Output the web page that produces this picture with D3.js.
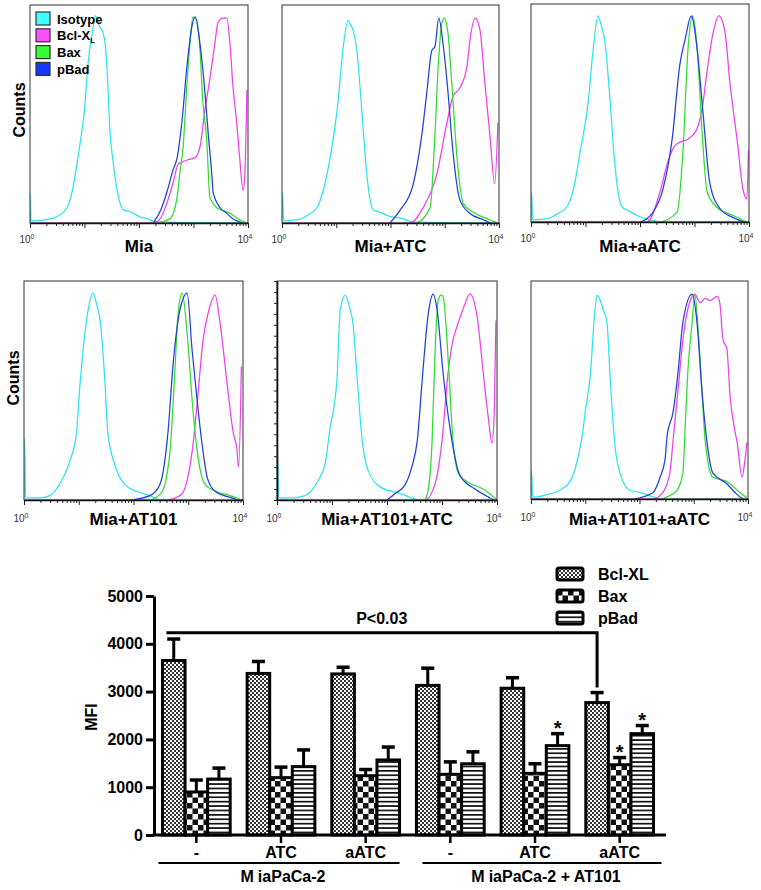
<!DOCTYPE html>
<html>
<head>
<meta charset="utf-8">
<script src="https://cdn.jsdelivr.net/npm/d3@7"></script>
<style>
  body { margin: 0; background: #fff; }
  svg { display: block; font-family: "Liberation Sans", Arial, sans-serif; }
</style>
</head>
<body>
<svg></svg>
<script>
// ---- histogram data: [log10 fluorescence, relative counts] ----
const markers = ["Isotype", "Bcl-XL", "Bax", "pBad"];
const panelLabels = ["Mia", "Mia+ATC", "Mia+aATC", "Mia+AT101", "Mia+AT101+ATC", "Mia+AT101+aATC"];

// Mia
const mia_iso = [[0,0],[0.005,0.13],[0.02,0.01],[0.1,0.01],[0.3,0.015],[0.5,0.03],[0.68,0.07],[0.77,0.14],[0.88,0.30],[0.95,0.42],[1.0,0.52],[1.06,0.72],[1.15,0.885],[1.2,0.95],[1.23,0.94],[1.28,0.90],[1.32,0.885],[1.38,0.82],[1.41,0.72],[1.47,0.41],[1.52,0.29],[1.6,0.15],[1.71,0.06],[1.8,0.055],[1.89,0.045],[2.0,0.03],[2.15,0.02],[2.33,0.005],[4,0]];
const mia_bcl = [[0,0],[2.26,0],[2.39,0.02],[2.51,0.09],[2.62,0.18],[2.72,0.27],[2.8,0.28],[2.9,0.29],[3.03,0.30],[3.12,0.35],[3.21,0.52],[3.30,0.66],[3.39,0.82],[3.45,0.92],[3.54,0.94],[3.61,0.94],[3.67,0.82],[3.72,0.64],[3.80,0.44],[3.85,0.29],[3.91,0.15],[3.94,0.21],[3.98,0.61]];
const mia_bax = [[2.33,0],[2.57,0.02],[2.70,0.12],[2.75,0.23],[2.81,0.35],[2.88,0.64],[2.94,0.84],[2.99,0.945],[3.06,0.93],[3.12,0.79],[3.17,0.56],[3.25,0.35],[3.27,0.24],[3.30,0.12],[3.43,0.07],[3.67,0.045],[3.85,0.015],[3.98,0]];
const mia_pbad = [[2.26,0],[2.4,0.06],[2.51,0.14],[2.62,0.24],[2.70,0.30],[2.79,0.47],[2.88,0.72],[2.97,0.90],[3.03,0.945],[3.12,0.82],[3.21,0.60],[3.27,0.41],[3.34,0.21],[3.36,0.14],[3.49,0.07],[3.61,0.045],[3.72,0.02],[3.85,0.005],[3.9,0]];

// Mia+ATC
const atc_iso = [[0,0],[0.01,0.14],[0.03,0.01],[0.3,0.015],[0.5,0.04],[0.645,0.07],[0.75,0.14],[0.88,0.29],[1.03,0.55],[1.12,0.79],[1.22,0.93],[1.26,0.91],[1.31,0.885],[1.38,0.79],[1.47,0.52],[1.56,0.23],[1.68,0.06],[1.8,0.05],[1.99,0.03],[2.23,0.02],[2.4,0.005],[4,0]];
const atc_bcl = [[0,0],[2.36,0],[2.60,0.07],[2.86,0.23],[3.04,0.46],[3.15,0.58],[3.28,0.62],[3.41,0.72],[3.46,0.83],[3.56,0.94],[3.65,0.885],[3.74,0.64],[3.83,0.41],[3.92,0.18],[3.98,0.46]];
const atc_bax = [[2.49,0],[2.73,0.07],[2.82,0.41],[2.88,0.72],[2.95,0.92],[2.99,0.94],[3.06,0.87],[3.13,0.64],[3.23,0.29],[3.34,0.09],[3.52,0.05],[3.83,0.015],[3.98,0]];
const atc_pbad = [[1.99,0],[2.18,0.06],[2.41,0.17],[2.58,0.41],[2.67,0.60],[2.76,0.79],[2.82,0.81],[2.89,0.94],[2.97,0.82],[3.06,0.60],[3.15,0.33],[3.28,0.105],[3.46,0.045],[3.71,0.015],[3.85,0]];

// Mia+aATC
const aatc_iso = [[0,0],[0.01,0.14],[0.03,0.01],[0.3,0.015],[0.5,0.04],[0.66,0.07],[0.78,0.15],[0.90,0.32],[1.05,0.55],[1.14,0.79],[1.23,0.945],[1.28,0.91],[1.36,0.82],[1.45,0.56],[1.54,0.26],[1.67,0.07],[1.8,0.05],[1.94,0.03],[2.18,0.01],[2.4,0],[4,0]];
const aatc_bcl = [[0,0],[2.13,0],[2.37,0.14],[2.51,0.275],[2.64,0.35],[2.77,0.37],[2.88,0.38],[3.05,0.43],[3.14,0.52],[3.23,0.69],[3.32,0.84],[3.45,0.945],[3.56,0.87],[3.65,0.64],[3.78,0.38],[3.89,0.15],[3.96,0.105],[3.99,0.33]];
const aatc_bax = [[2.37,0],[2.68,0.045],[2.79,0.33],[2.88,0.79],[2.97,0.945],[3.05,0.79],[3.14,0.41],[3.23,0.14],[3.40,0.07],[3.71,0.03],[3.96,0]];
const aatc_pbad = [[2.0,0],[2.24,0.045],[2.42,0.15],[2.59,0.38],[2.73,0.72],[2.83,0.84],[2.94,0.945],[3.05,0.79],[3.16,0.49],[3.28,0.18],[3.47,0.06],[3.71,0.02],[3.9,0]];

// Mia+AT101
const at_iso = [[0,0],[0.01,0.28],[0.03,0.01],[0.3,0.01],[0.47,0.02],[0.69,0.09],[0.84,0.18],[0.96,0.31],[1.02,0.52],[1.08,0.685],[1.18,0.88],[1.26,0.945],[1.32,0.9],[1.39,0.82],[1.48,0.53],[1.53,0.31],[1.66,0.16],[1.84,0.07],[2.05,0.04],[2.30,0.02],[2.5,0],[4,0]];
const at_bcl = [[0,0],[2.58,0],[2.85,0.02],[2.98,0.09],[3.09,0.26],[3.18,0.49],[3.27,0.73],[3.36,0.85],[3.49,0.935],[3.58,0.81],[3.71,0.53],[3.82,0.31],[3.89,0.23],[3.92,0.15],[3.97,0.61]];
const at_bax = [[2.30,0],[2.5,0.03],[2.6,0.1],[2.67,0.23],[2.76,0.61],[2.81,0.84],[2.89,0.945],[2.98,0.76],[3.07,0.46],[3.16,0.23],[3.31,0.07],[3.5,0.04],[3.76,0.02],[3.99,0]];
const at_pbad = [[1.94,0],[2.30,0.02],[2.48,0.07],[2.63,0.31],[2.72,0.61],[2.85,0.87],[2.98,0.945],[3.07,0.685],[3.16,0.46],[3.25,0.26],[3.35,0.1],[3.49,0.04],[3.85,0.005],[3.9,0]];

// Mia+AT101+ATC
const atatc_iso = [[0,0],[0.01,0.2],[0.03,0.01],[0.3,0.01],[0.51,0.02],[0.75,0.09],[0.87,0.16],[0.96,0.32],[1.09,0.55],[1.15,0.87],[1.24,0.935],[1.33,0.87],[1.38,0.81],[1.45,0.58],[1.55,0.27],[1.65,0.14],[1.87,0.06],[2.24,0.03],[2.6,0],[4,0]];
const atatc_bcl = [[0,0],[2.69,0],[2.87,0.07],[3.0,0.27],[3.11,0.58],[3.2,0.73],[3.27,0.79],[3.33,0.835],[3.38,0.87],[3.51,0.94],[3.64,0.835],[3.75,0.58],[3.84,0.38],[3.91,0.26],[3.95,0.4],[3.98,0.82]];
const atatc_bax = [[2.69,0],[2.75,0.05],[2.82,0.27],[2.87,0.65],[2.93,0.91],[2.98,0.935],[3.02,0.93],[3.11,0.65],[3.2,0.27],[3.3,0.12],[3.42,0.09],[3.78,0.045],[4,0]];
const atatc_pbad = [[2.0,0],[2.15,0.03],[2.33,0.07],[2.45,0.15],[2.55,0.27],[2.65,0.58],[2.75,0.85],[2.84,0.94],[2.91,0.87],[3.02,0.58],[3.15,0.32],[3.33,0.11],[3.6,0.05],[3.87,0.01],[3.95,0]];

// Mia+AT101+aATC
const ataatc_iso = [[0,0],[0.01,0.13],[0.03,0.01],[0.11,0.01],[0.29,0.02],[0.53,0.04],[0.72,0.08],[0.90,0.23],[0.95,0.30],[1.0,0.40],[1.09,0.56],[1.18,0.87],[1.22,0.935],[1.33,0.87],[1.40,0.81],[1.46,0.55],[1.55,0.24],[1.64,0.12],[1.82,0.04],[2.01,0.03],[2.25,0.01],[2.4,0],[4,0]];
const ataatc_bcl = [[0,0],[2.25,0],[2.43,0.03],[2.56,0.12],[2.62,0.27],[2.71,0.50],[2.80,0.73],[2.89,0.87],[3.02,0.94],[3.12,0.90],[3.21,0.92],[3.30,0.91],[3.43,0.93],[3.48,0.90],[3.54,0.73],[3.61,0.69],[3.67,0.47],[3.76,0.31],[3.80,0.26],[3.89,0.10],[3.94,0.17],[3.98,0.26]];
const ataatc_bax = [[2.4,0],[2.51,0.01],[2.69,0.04],[2.80,0.12],[2.84,0.32],[2.89,0.58],[2.97,0.81],[3.02,0.94],[3.08,0.78],[3.15,0.50],[3.21,0.27],[3.35,0.10],[3.61,0.08],[3.85,0.03],[3.98,0.005]];
const ataatc_pbad = [[1.9,0],[2.25,0.03],[2.38,0.10],[2.47,0.18],[2.51,0.29],[2.62,0.40],[2.71,0.58],[2.80,0.81],[2.97,0.94],[3.06,0.81],[3.15,0.50],[3.24,0.27],[3.35,0.12],[3.61,0.07],[3.80,0.02],[3.91,0]];

const histData = [
  [mia_iso, mia_bcl, mia_bax, mia_pbad],
  [atc_iso, atc_bcl, atc_bax, atc_pbad],
  [aatc_iso, aatc_bcl, aatc_bax, aatc_pbad],
  [at_iso, at_bcl, at_bax, at_pbad],
  [atatc_iso, atatc_bcl, atatc_bax, atatc_pbad],
  [ataatc_iso, ataatc_bcl, ataatc_bax, ataatc_pbad]
];

// ---- bar chart data (MFI) ----
const conditions = ["-", "ATC", "aATC", "-", "ATC", "aATC"];
const cellLines = ["MiaPaCa-2", "MiaPaCa-2 + AT101"];
const series = ["Bcl-XL", "Bax", "pBad"];
const bclMean = [3650, 3380, 3370, 3130, 3070, 2770];
const bclErr  = [450, 250, 140, 360, 220, 210];
const baxMean = [900, 1200, 1240, 1270, 1290, 1470];
const baxErr  = [250, 220, 130, 260, 200, 150];
const pbadMean = [1170, 1430, 1570, 1490, 1870, 2120];
const pbadErr  = [230, 350, 270, 250, 250, 170];
const yTicks = [0, 1000, 2000, 3000, 4000, 5000];
const starred = [[4, "pBad"], [5, "Bax"], [5, "pBad"]];
const bracketLevel = 4230;
const pLabel = "P<0.03";

//setting
const Width = 761;
const Height = 890;
const svg = d3.select("svg").attr("width", Width).attr("height", Height);

const lineColors = ["#2ce4ee", "#ee40ee", "#30dc30", "#2040dc"];
const legendFills = ["#40ffff", "#ff50ff", "#33ff33", "#1438ff"];

// panel boxes (pixels)
const boxes = [
  {x: 30, y: 5, w: 218, h: 218},
  {x: 282, y: 5, w: 217, h: 218},
  {x: 531, y: 4, w: 218, h: 218},
  {x: 24, y: 281, w: 219, h: 219},
  {x: 277, y: 281, w: 220, h: 219},
  {x: 531, y: 281, w: 217, h: 218}
];

boxes.forEach(function(b, i) {
  const g = svg.append("g");
  const x = d3.scaleLog().domain([1, 1e4]).range([b.x, b.x + b.w]);
  const y = d3.scaleLinear().domain([0, 1]).range([b.y + b.h, b.y]);
  const line = d3.line()
    .x(d => x(Math.pow(10, d[0])))
    .y(d => y(d[1]))
    .curve(d3.curveMonotoneX);

  g.append("clipPath").attr("id", "clip" + i)
    .append("rect").attr("x", b.x).attr("y", b.y).attr("width", b.w + 1).attr("height", b.h);

  g.append("g").attr("clip-path", `url(#clip${i})`)
    .selectAll("path")
    .data(histData[i])
    .join("path")
    .attr("d", line)
    .attr("fill", "none")
    .attr("stroke", (d, j) => lineColors[j])
    .attr("stroke-width", 1.25)
    .attr("stroke-linejoin", "round");

  g.append("rect")
    .attr("x", b.x).attr("y", b.y).attr("width", b.w).attr("height", b.h)
    .attr("fill", "none").attr("stroke", "#444").attr("stroke-width", 1.1);

  const ax = g.append("g")
    .attr("transform", `translate(0,${b.y + b.h})`)
    .call(d3.axisBottom(x).ticks(10).tickFormat("").tickSize(3).tickSizeOuter(0));
  ax.select(".domain").attr("stroke", "#111").attr("stroke-width", 1.4);
  ax.selectAll(".tick line")
    .attr("stroke", "#222")
    .attr("y2", d => Math.abs(Math.log10(d) - Math.round(Math.log10(d))) < 1e-9 ? 5 : 3);

  // panel 5 has ticks on the left edge
  if (i === 4) {
    const ay = g.append("g").attr("transform", `translate(${b.x},0)`)
      .call(d3.axisLeft(y).ticks(20).tickFormat("").tickSize(3).tickSizeOuter(0));
    ay.select(".domain").attr("stroke", "#111").attr("stroke-width", 1.6);
    ay.selectAll(".tick line").attr("stroke", "#222");
  }

  // 10^0 and 10^4
  const ly = b.y + b.h + (i < 3 ? 20 : 22);
  [[1, "0"], [1e4, "4"]].forEach(function(t) {
    const tx = g.append("text")
      .attr("x", x(t[0]) - 3).attr("y", ly)
      .attr("text-anchor", "middle")
      .attr("font-size", 10).attr("fill", "#333");
    tx.append("tspan").text("10");
    tx.append("tspan").attr("dy", -4).attr("font-size", 7).text(t[1]);
  });

  g.append("text")
    .attr("x", b.x + b.w / 2).attr("y", i < 3 ? 252 : 525)
    .attr("text-anchor", "middle")
    .attr("font-size", 17).attr("font-weight", "bold")
    .text(panelLabels[i]);
});

// Counts labels
[[25, 110], [19, 378]].forEach(function(p) {
  svg.append("text")
    .attr("transform", `translate(${p[0]},${p[1]}) rotate(-90)`)
    .attr("text-anchor", "middle")
    .attr("font-size", 16).attr("font-weight", "bold")
    .text("Counts");
});

// histogram legend
const hleg = svg.append("g").attr("transform", "translate(36,12)");
markers.forEach(function(m, k) {
  hleg.append("rect")
    .attr("x", 0).attr("y", k * 16.8).attr("width", 14).attr("height", 13)
    .attr("fill", legendFills[k]).attr("stroke", "#333").attr("stroke-width", 1.2);
  const t = hleg.append("text")
    .attr("x", 21).attr("y", k * 16.8 + 11.5)
    .attr("font-size", 13).attr("font-weight", "bold");
  if (m === "Bcl-XL") {
    t.append("tspan").text("Bcl-X");
    t.append("tspan").attr("dy", 3).attr("font-size", 8).text("L");
  } else {
    t.text(m);
  }
});

// ---- bar chart ----
const defs = svg.append("defs");
const p1 = defs.append("pattern").attr("id", "pat-bcl").attr("patternUnits", "userSpaceOnUse")
  .attr("width", 4).attr("height", 4);
p1.append("rect").attr("width", 4).attr("height", 4).attr("fill", "#fff");
p1.append("rect").attr("width", 2).attr("height", 2).attr("fill", "#333");
p1.append("rect").attr("x", 2).attr("y", 2).attr("width", 2).attr("height", 2).attr("fill", "#333");

const p2 = defs.append("pattern").attr("id", "pat-bax").attr("patternUnits", "userSpaceOnUse")
  .attr("width", 11).attr("height", 11);
p2.append("rect").attr("width", 11).attr("height", 11).attr("fill", "#fff");
p2.append("rect").attr("width", 5.5).attr("height", 5.5).attr("fill", "#111");
p2.append("rect").attr("x", 5.5).attr("y", 5.5).attr("width", 5.5).attr("height", 5.5).attr("fill", "#111");

const p3 = defs.append("pattern").attr("id", "pat-pbad").attr("patternUnits", "userSpaceOnUse")
  .attr("width", 4).attr("height", 4.4);
p3.append("rect").attr("width", 4).attr("height", 4.4).attr("fill", "#fff");
p3.append("rect").attr("width", 4).attr("height", 1.7).attr("fill", "#111");

const patterns = ["url(#pat-bcl)", "url(#pat-bax)", "url(#pat-pbad)"];
const means = [bclMean, baxMean, pbadMean];
const errs = [bclErr, baxErr, pbadErr];

const x0 = d3.scaleBand().domain(d3.range(conditions.length)).range([154, 662])
  .paddingInner(0.2).paddingOuter(0.1);
const x1 = d3.scaleBand().domain(series).range([0, x0.bandwidth()]);
const yb = d3.scaleLinear().domain([0, 5000]).range([835, 596]);

const bars = [];
conditions.forEach(function(c, i) {
  series.forEach(function(s, k) {
    bars.push({i: i, s: s, k: k, v: means[k][i], e: errs[k][i]});
  });
});

const bg = svg.append("g");
bg.selectAll("rect")
  .data(bars)
  .join("rect")
  .attr("x", d => x0(d.i) + x1(d.s))
  .attr("y", d => yb(d.v))
  .attr("width", x1.bandwidth())
  .attr("height", d => yb(0) - yb(d.v))
  .attr("fill", d => patterns[d.k])
  .attr("stroke", "#000")
  .attr("stroke-width", 3);

const eg = svg.append("g").attr("stroke", "#000");
bars.forEach(function(d) {
  const cx = x0(d.i) + x1(d.s) + x1.bandwidth() / 2;
  eg.append("line").attr("x1", cx).attr("x2", cx)
    .attr("y1", yb(d.v)).attr("y2", yb(d.v + d.e)).attr("stroke-width", 3);
  eg.append("line").attr("x1", cx - 6.5).attr("x2", cx + 6.5)
    .attr("y1", yb(d.v + d.e)).attr("y2", yb(d.v + d.e)).attr("stroke-width", 3.5);
});

// stars
starred.forEach(function(st) {
  const k = series.indexOf(st[1]);
  const cx = x0(st[0]) + x1(st[1]) + x1.bandwidth() / 2;
  svg.append("text")
    .attr("x", cx).attr("y", yb(means[k][st[0]] + errs[k][st[0]]) + 1)
    .attr("text-anchor", "middle")
    .attr("font-size", 20).attr("font-weight", "bold")
    .text("*");
});

// y axis
const yAx = svg.append("g").attr("transform", "translate(154,0)")
  .call(d3.axisLeft(yb).tickValues(yTicks).tickFormat(d3.format("d"))
    .tickSize(8).tickSizeOuter(0).tickPadding(3));
yAx.select(".domain").attr("stroke-width", 3);
yAx.selectAll(".tick line").attr("stroke-width", 3);
yAx.selectAll(".tick text").attr("font-size", 16).attr("font-weight", "bold")
  .attr("font-family", "Liberation Sans, Arial, sans-serif").attr("fill", "#000");

// x axis line and ticks
svg.append("line").attr("x1", 152.5).attr("x2", 666).attr("y1", yb(0)).attr("y2", yb(0))
  .attr("stroke", "#000").attr("stroke-width", 3);
conditions.forEach(function(c, i) {
  const cx = x0(i) + x0.bandwidth() / 2;
  svg.append("line").attr("x1", cx).attr("x2", cx).attr("y1", yb(0)).attr("y2", yb(0) + 8)
    .attr("stroke", "#000").attr("stroke-width", 2.5);
  svg.append("text").attr("x", cx).attr("y", 858)
    .attr("text-anchor", "middle").attr("font-size", 16).attr("font-weight", "bold")
    .text(c);
});

// cell line groups
const spans = [[x0(0) - 4, x0(2) + x0.bandwidth()], [x0(3) + 6, x0(5) + x0.bandwidth() + 8]];
cellLines.forEach(function(name, j) {
  const s = spans[j];
  svg.append("line").attr("x1", s[0]).attr("x2", s[1]).attr("y1", 863).attr("y2", 863)
    .attr("stroke", "#000").attr("stroke-width", 2);
  const t = svg.append("text").attr("x", (s[0] + s[1]) / 2 + 4).attr("y", 882)
    .attr("text-anchor", "middle").attr("font-size", 16).attr("font-weight", "bold");
  t.append("tspan").text("M");
  t.append("tspan").attr("dx", 4).text(name.slice(1));
});

// MFI label
svg.append("text")
  .attr("transform", "translate(97,717) rotate(-90)")
  .attr("text-anchor", "middle").attr("font-size", 16).attr("font-weight", "bold")
  .text("MFI");

// significance bracket
const bx1 = x0(0) + x1("Bcl-XL") + 4;
const bx2 = x0(5) + x1("Bcl-XL") + x1.bandwidth() / 2;
svg.append("path")
  .attr("d", `M${bx1},${yb(bracketLevel)}H${bx2}V${yb(bclMean[5] + bclErr[5]) - 5}`)
  .attr("fill", "none").attr("stroke", "#000").attr("stroke-width", 3);
svg.append("text")
  .attr("x", (bx1 + bx2) / 2).attr("y", yb(bracketLevel) - 9)
  .attr("text-anchor", "middle").attr("font-size", 16).attr("font-weight", "bold")
  .text(pLabel);

// bar legend
const bl = svg.append("g").attr("transform", "translate(557,568)");
series.forEach(function(s, k) {
  bl.append("rect").attr("x", 0).attr("y", k * 22).attr("width", 26).attr("height", 12).attr("rx", 2)
    .attr("fill", patterns[k]).attr("stroke", "#000").attr("stroke-width", 3);
  bl.append("text").attr("x", 41).attr("y", k * 22 + 12)
    .attr("font-size", 16).attr("font-weight", "bold").text(s);
});
</script>
</body>
</html>
